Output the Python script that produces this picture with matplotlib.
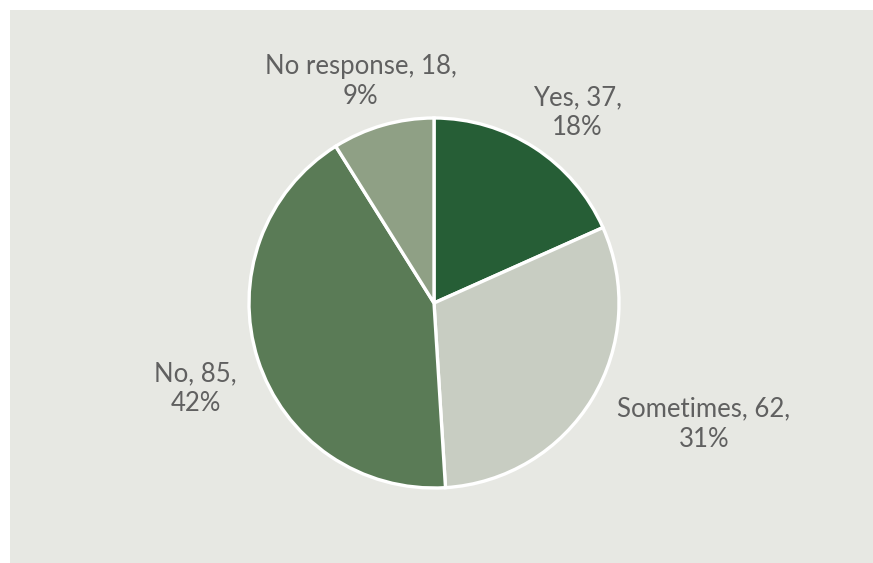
import numpy as np
import matplotlib.pyplot as plt
from matplotlib.patches import Rectangle

# slice data, clockwise from 12 o'clock
categories = ['Yes', 'Sometimes', 'No', 'No response']
counts = [37, 62, 85, 18]
colors = ['#265e36', '#c8cdc2', '#5a7b56', '#8fa085']
# label placement: (distance in radii, clockwise angle shift in degrees)
label_pos = [(1.29, 4), (1.6, -7), (1.37, -2), (1.26, -2.3)]

W, H = 873, 563
BG = '#e7e8e3'
fig = plt.figure(figsize=(W / 100, H / 100), dpi=100, facecolor=BG)
# white margin on the left and top edges
fig.patches.append(Rectangle((0, 0), 10 / W, 1, transform=fig.transFigure,
                             facecolor='white', edgecolor='none'))
fig.patches.append(Rectangle((0, 1 - 10 / H), 1, 10 / H, transform=fig.transFigure,
                             facecolor='white', edgecolor='none'))

ax = fig.add_axes([0, 0, 1, 1])
ax.set_facecolor('none')

cx, cy, r = 434, H - 303, 185
wedges, _ = ax.pie(counts, colors=colors, startangle=90, counterclock=False,
                   center=(cx, cy), radius=r, frame=True,
                   wedgeprops=dict(edgecolor='white', linewidth=2.4))
ax.set_xlim(0, W)
ax.set_ylim(0, H)
ax.set_aspect('equal')
ax.axis('off')

total = sum(counts)
for w, name, n, (d, shift) in zip(wedges, categories, counts, label_pos):
    ang = np.deg2rad((w.theta1 + w.theta2) / 2 - shift)
    x = cx + d * r * np.cos(ang)
    y = cy + d * r * np.sin(ang)
    pct = round(100 * n / total)
    ax.text(x, y, f'{name}, {n},\n{pct}%', ha='center', va='center',
            fontsize=18.5, color='#606060', family=['Lato', 'DejaVu Sans'],
            linespacing=1.25)

fig.savefig('out.png', dpi=100, facecolor=BG)
